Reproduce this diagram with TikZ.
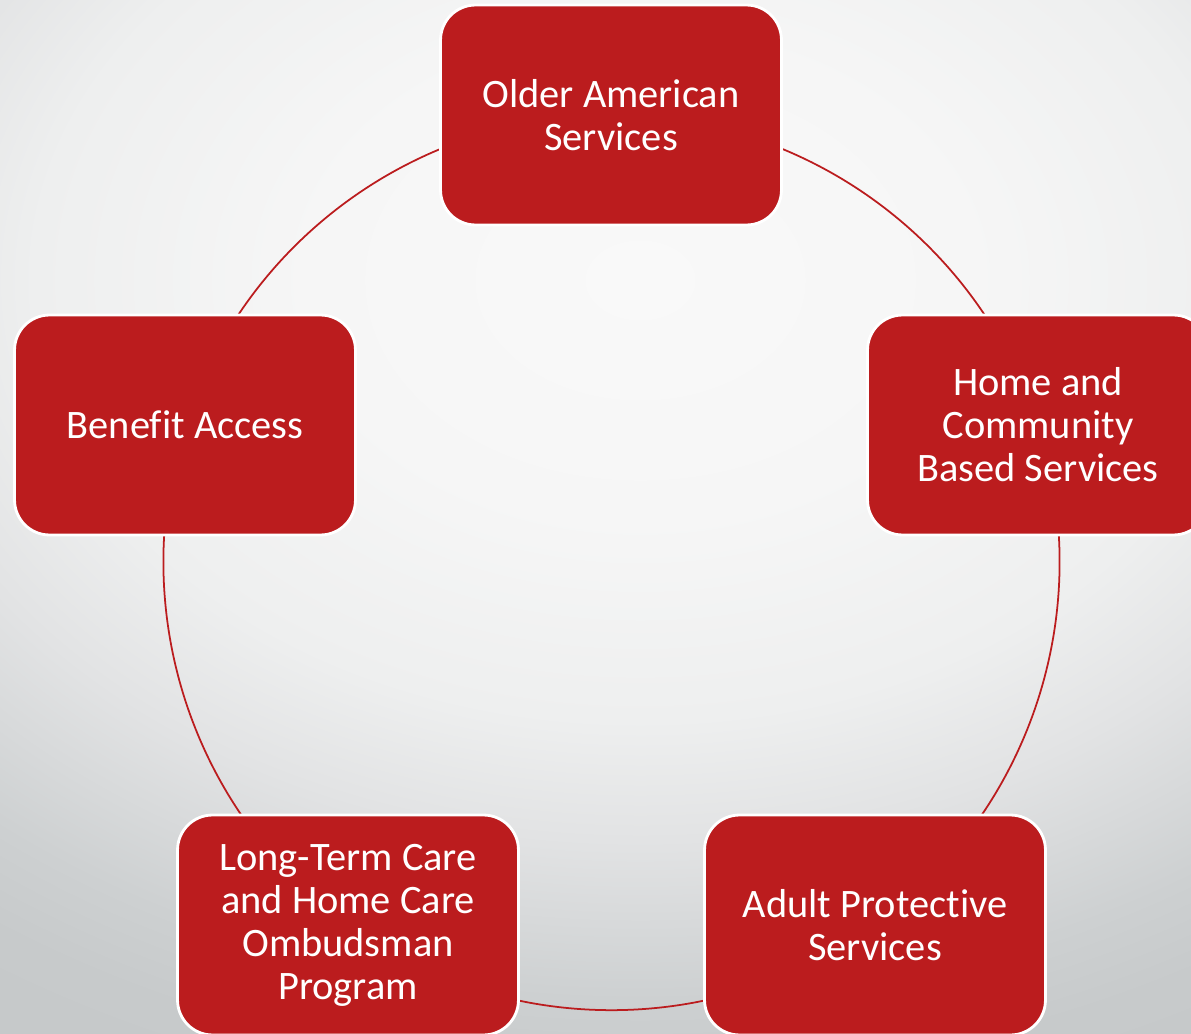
\documentclass[tikz,border=0pt]{standalone}
\usepackage{fontspec}
\setmainfont{Carlito}[Ligatures=NoCommon]
\usetikzlibrary{positioning}

\definecolor{boxred}{RGB}{187,28,30}
\definecolor{bgin}{RGB}{249,249,249}
\definecolor{bgmid}{RGB}{246,246,246}
\definecolor{bgmidd}{RGB}{238,239,239}
\definecolor{bgdim}{RGB}{226,227,228}
\definecolor{bgdark}{RGB}{205,208,209}
\definecolor{bgout}{RGB}{199,202,203}
\definecolor{bgedge}{RGB}{195,198,199}

\pgfdeclareradialshading{bgglow}{\pgfpoint{0bp}{0bp}}{color(0bp)=(bgin); color(3.75bp)=(bgmid); color(6.875bp)=(bgmidd); color(8.75bp)=(bgdim); color(11.25bp)=(bgdark); color(12.5bp)=(bgout); color(16.25bp)=(bgedge); color(50bp)=(bgedge)}

\pgfdeclarelayer{slide}
\pgfdeclarelayer{ringlayer}
\pgfsetlayers{slide,ringlayer,main}

\begin{document}
\begin{tikzpicture}[x=0.02cm, y=-0.02cm,
    servicebox/.style={draw=white, line width=1.6pt, fill=boxred, rounded corners=0.7cm,
        minimum width=6.82cm, minimum height=4.4cm, text=white, align=center,
        font=\fontsize{23pt}{24.5pt}\selectfont},
    ring/.style={draw=boxred, line width=1pt, bend left=36, looseness=0.94}]

\useasboundingbox (0,0) rectangle (1191,1034);

% slide background, lighter towards the upper middle
\begin{pgfonlayer}{slide}
    \clip (0,0) rectangle (1191,1034);
    \shade[shading=bgglow] (640,280) ellipse (2200 and 1600);
\end{pgfonlayer}

% five service areas on a circle
\node[servicebox] (oas) at (611,115) {Older American\\Services};
\node[servicebox] (hcbs) at (1038,425) {Home and\\Community\\Based Services};
\node[servicebox] (aps) at (875,925) {Adult Protective\\Services};
\node[servicebox] (ltc) at (348,925) {Long-Term Care\\and Home Care\\Ombudsman\\Program};
\node[servicebox] (ben) at (185,425) {Benefit Access};

% the ring joining them, behind the boxes
\begin{pgfonlayer}{ringlayer}
    \draw[ring] (oas.center) to (hcbs.center);
    \draw[ring] (hcbs.center) to (aps.center);
    \draw[ring] (aps.center) to (ltc.center);
    \draw[ring] (ltc.center) to (ben.center);
    \draw[ring] (ben.center) to (oas.center);
\end{pgfonlayer}

\end{tikzpicture}
\end{document}
